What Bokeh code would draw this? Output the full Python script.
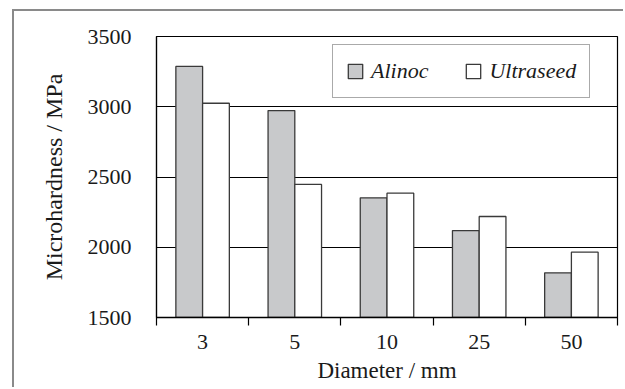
from bokeh.plotting import figure
from bokeh.models import Range1d, FixedTicker, ColumnDataSource, Legend, LegendItem
from bokeh.embed import file_html
from bokeh.resources import INLINE

diameters = ["3", "5", "10", "25", "50"]
alinoc = [3287, 2973, 2352, 2119, 1818]
ultraseed = [3025, 2447, 2385, 2219, 1965]
y_ticks = [1500, 2000, 2500, 3000, 3500]

FONT = "'Liberation Serif'"
n = len(diameters)
centers = [i + 0.5 for i in range(n)]
bw = 0.29

src = ColumnDataSource(dict(
    xa=[c - bw / 2 for c in centers],
    xu=[c + bw / 2 for c in centers],
    alinoc=alinoc,
    ultraseed=ultraseed,
))

p = figure(width=611, height=378, x_range=Range1d(0, n), y_range=Range1d(1500, 3500),
           output_backend="svg", toolbar_location=None,
           min_border_left=142, min_border_right=8, min_border_top=25, min_border_bottom=72)
p.styles = {"margin-left": "12px", "margin-top": "9px",
            "border-left": "2px solid #8a8a8a", "border-top": "2px solid #8a8a8a"}

p.outline_line_color = "black"
p.outline_line_width = 1.2
p.background_fill_color = "white"
p.border_fill_color = "white"

r1 = p.vbar(x="xa", top="alinoc", bottom=1500, width=bw, source=src,
            fill_color="#c8c9cb", line_color="#3a3a3a", line_width=1.3)
r2 = p.vbar(x="xu", top="ultraseed", bottom=1500, width=bw, source=src,
            fill_color="white", line_color="#3a3a3a", line_width=1.3)

# axes
xa = p.xaxis[0]
xa.ticker = FixedTicker(ticks=centers, minor_ticks=list(range(n + 1)))
xa.major_label_overrides = {c: d for c, d in zip(centers, diameters)}
xa.major_tick_out = 0
xa.major_tick_in = 0
xa.minor_tick_out = 8
xa.minor_tick_in = 0
xa.minor_tick_line_color = "black"
xa.minor_tick_line_width = 1.2
xa.axis_line_color = "black"
xa.axis_line_width = 1.5
xa.major_label_text_font = FONT
xa.major_label_text_font_size = "22px"
xa.major_label_text_color = "#1a1a1a"
xa.major_label_standoff = 9
xa.axis_label = "Diameter / mm"
xa.axis_label_text_font = FONT
xa.axis_label_text_font_size = "23px"
xa.axis_label_text_font_style = "normal"
xa.axis_label_text_color = "#1a1a1a"
xa.axis_label_standoff = 6

ya = p.yaxis[0]
ya.ticker = FixedTicker(ticks=y_ticks)
ya.major_tick_out = 0
ya.major_tick_in = 0
ya.minor_tick_line_color = None
ya.axis_line_color = "black"
ya.axis_line_width = 1.2
ya.major_label_text_font = FONT
ya.major_label_text_font_size = "22px"
ya.major_label_text_color = "#1a1a1a"
ya.major_label_standoff = 25
ya.axis_label = "Microhardness / MPa"
ya.axis_label_text_font = FONT
ya.axis_label_text_font_size = "24px"
ya.axis_label_text_font_style = "normal"
ya.axis_label_text_color = "#1a1a1a"
ya.axis_label_standoff = 18

p.xgrid.grid_line_color = None
p.ygrid.ticker = FixedTicker(ticks=y_ticks)
p.ygrid.grid_line_color = "black"
p.ygrid.grid_line_width = 1.0
p.ygrid.grid_line_alpha = 1.0

legend = Legend(items=[LegendItem(label="Alinoc", renderers=[r1]),
                       LegendItem(label="Ultraseed", renderers=[r2])],
                orientation="horizontal", location=(176, 219),
                label_text_font=FONT, label_text_font_size="22px",
                label_text_font_style="italic", label_text_color="#1a1a1a",
                glyph_width=18, glyph_height=18, label_standoff=7, spacing=36,
                padding=13, border_line_color="#555555", border_line_width=1.3,
                background_fill_alpha=1.0, margin=0)
p.add_layout(legend, "center")

open("out.html", "w").write(file_html(p, INLINE))
